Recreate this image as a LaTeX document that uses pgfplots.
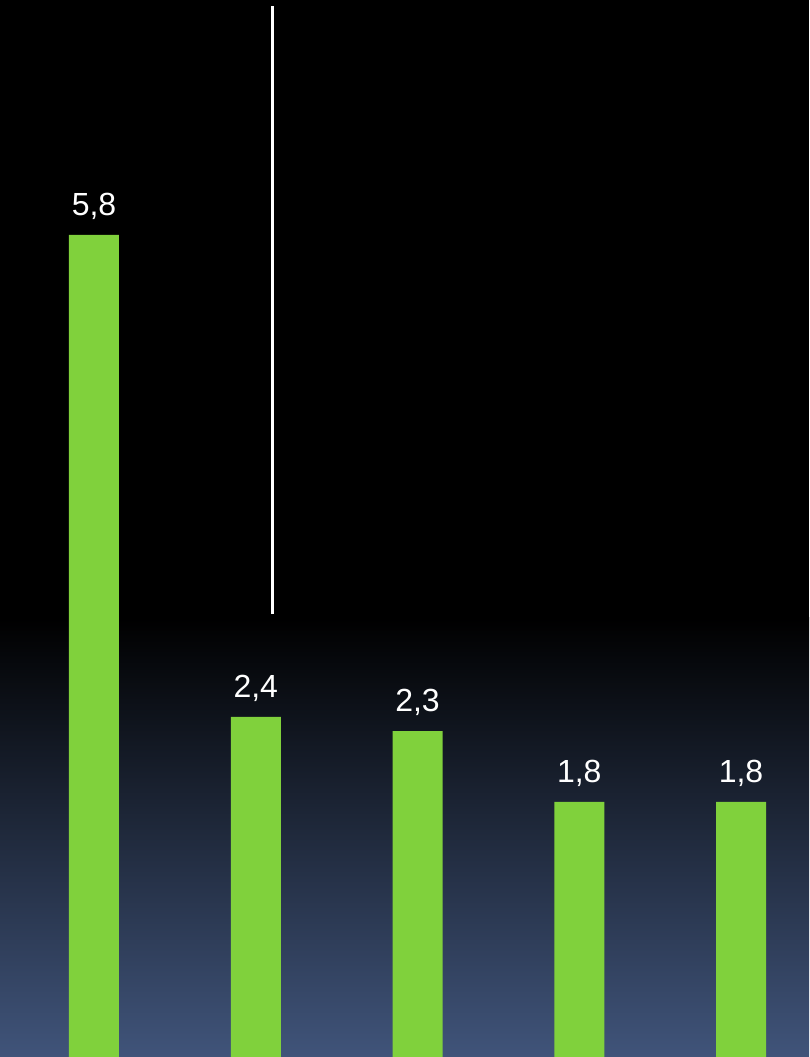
\documentclass[border=0pt]{standalone}
\usepackage{fontspec}
\setmainfont{Liberation Sans}
\usepackage{pgfplots}
\pgfplotsset{compat=1.18}
\definecolor{bargreen}{HTML}{80D13C}
\definecolor{bgbot}{HTML}{40547A}
\begin{document}
\begin{tikzpicture}
\begin{axis}[
  scale only axis,
  width=404.5pt, height=528.5pt,
  xmin=-0.5811, xmax=4.4204,
  ymin=0, ymax=7.458,
  hide axis,
  axis background/.style={fill=black},
  clip=false,
  /pgf/number format/assume math mode=true,
]
\shade[top color=black, bottom color=bgbot] (rel axis cs:0,0) rectangle (rel axis cs:1,0.4157);
\addplot[ybar, bar width=25pt, bar shift=0pt, fill=bargreen, draw=none,
  nodes near coords,
  every node near coord/.append style={font=\fontsize{16}{18}\selectfont, text=white, anchor=south, yshift=4pt},
  /pgf/number format/.cd, use comma, fixed, fixed zerofill, precision=1]
  coordinates {(0,5.8) (1,2.4) (2,2.3) (3,1.8) (4,1.8)};
\addplot[white, line width=1.5pt, mark=none] coordinates {(1.1005,3.126) (1.1005,7.416)};
\end{axis}
\end{tikzpicture}
\end{document}
